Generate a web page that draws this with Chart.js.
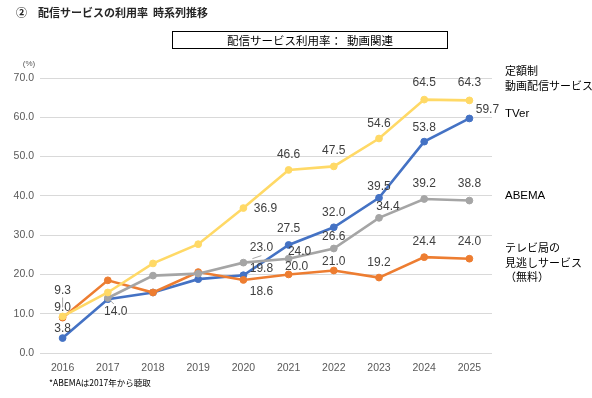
<!DOCTYPE html>
<html>
<head>
<meta charset="utf-8">
<script src="https://cdn.jsdelivr.net/npm/chart.js@4.4.1/dist/chart.umd.min.js"></script>
<style>
  html, body { margin: 0; padding: 0; background: #fff; }
  canvas { display: block; }
</style>
</head>
<body>
<canvas id="usage-chart" width="592" height="398"></canvas>
<script>
// data
const years = ['2016', '2017', '2018', '2019', '2020', '2021', '2022', '2023', '2024', '2025'];
const svodValues    = [9.3, 15.4, 22.8, 27.7, 36.9, 46.6, 47.5, 54.6, 64.5, 64.3];
const tverValues    = [3.8, 13.7, 15.4, 18.8, 19.8, 27.5, 32.0, 39.5, 53.8, 59.7];
const abemaValues   = [null, 14.0, 19.7, 20.2, 23.0, 24.0, 26.6, 34.4, 39.2, 38.8];
const catchupValues = [9.0, 18.5, 15.4, 20.6, 18.6, 20.0, 21.0, 19.2, 24.4, 24.0];
const yMin = 0, yMax = 70, yStep = 10;

const titleText = '②　配信サービスの利用率  時系列推移';
const boxText = '配信サービス利用率：  動画関連';
const unitText = '(%)';
const noteText = '*ABEMAは2017年から聴取';
const svodName = ['定額制', '動画配信サービス'];
const tverName = ['TVer'];
const abemaName = ['ABEMA'];
const catchupName = ['テレビ局の', '見逃しサービス', '（無料）'];

const JP = '"Noto Sans CJK JP", sans-serif';
const NUM = '"Liberation Sans", Arial, sans-serif';

// which values get a label and where it sits relative to its point [dx, dy]
const labelSpots = [
    { 0: [0, -26], 4: [22, 1], 5: [0, -15], 6: [0, -16], 7: [0, -15], 8: [0, -17], 9: [0, -18] },
    { 1: [8, 14], 4: [18, -15], 5: [11, -7], 6: [0, -12], 7: [9, -11], 8: [0, -15], 9: [0, -17] },
    { 0: [0, -10], 4: [18, 12], 5: [8, -8], 6: [0, -9], 7: [0, -15], 8: [0, -15], 9: [0, -17] },
    { 0: [0, -9], 4: [18, -7], 5: [0, -16], 6: [0, -15], 7: [0, -11], 8: [0, -14], 9: [18, -9] }
];
// little leader lines [dataset, index, x1, y1, x2, y2] relative to the point
const leaders = [
    [0, 0, 0, -19, 0, -9],
    [1, 1, 2, 2, 6, 6],
    [1, 4, 9, -4, 18, -7]
];

const dataLabels = {
    id: 'dataLabels',
    afterDatasetsDraw(chart) {
        const ctx = chart.ctx;
        ctx.save();
        ctx.strokeStyle = '#a6a6a6';
        ctx.lineWidth = 1;
        leaders.forEach(([d, i, x1, y1, x2, y2]) => {
            const pt = chart.getDatasetMeta(d).data[i];
            ctx.beginPath();
            ctx.moveTo(pt.x + x1, pt.y + y1);
            ctx.lineTo(pt.x + x2, pt.y + y2);
            ctx.stroke();
        });
        ctx.font = '12px ' + NUM;
        ctx.fillStyle = '#404040';
        ctx.textAlign = 'center';
        ctx.textBaseline = 'middle';
        chart.data.datasets.forEach((ds, d) => {
            const meta = chart.getDatasetMeta(d);
            Object.entries(labelSpots[d]).forEach(([i, off]) => {
                const v = ds.data[i];
                if (v == null) return;
                const pt = meta.data[i];
                ctx.fillText(v.toFixed(1), pt.x + off[0], pt.y + off[1]);
            });
        });
        ctx.restore();
    }
};

const decorations = {
    id: 'decorations',
    afterDraw(chart) {
        const ctx = chart.ctx;
        const area = chart.chartArea;
        ctx.save();
        ctx.textBaseline = 'middle';

        ctx.fillStyle = '#262626';
        ctx.font = 'bold 11px ' + JP;
        ctx.textAlign = 'left';
        ctx.fillText(titleText, 16, 13);

        ctx.strokeStyle = '#000';
        ctx.lineWidth = 1;
        ctx.strokeRect(172.5, 31.5, 275, 17);
        ctx.fillStyle = '#000';
        ctx.font = '11.5px ' + JP;
        ctx.textAlign = 'center';
        ctx.fillText(boxText, 310, 40.5);

        ctx.fillStyle = '#595959';
        ctx.font = '8px ' + NUM;
        ctx.fillText(unitText, 29, 64);

        ctx.fillStyle = '#000';
        ctx.font = '8.5px ' + JP;
        ctx.textAlign = 'left';
        ctx.fillText(noteText, 49, 383);

        const x = area.right + 13;
        ctx.font = '11px ' + JP;
        ctx.fillStyle = '#000';
        const put = (lines, y0) => lines.forEach((t, k) => ctx.fillText(t, x, y0 + k * 14.5));
        put(svodName, 71);
        ctx.font = '11.5px ' + NUM;
        put(tverName, 114);
        put(abemaName, 196);
        ctx.font = '11px ' + JP;
        put(catchupName, 248);
        ctx.restore();
    }
};

function series(data, color) {
    return {
        data: data,
        borderColor: color,
        backgroundColor: color,
        pointBackgroundColor: color,
        pointBorderColor: color,
        borderWidth: 2.6,
        pointRadius: 3.4,
        pointBorderWidth: 1,
        tension: 0
    };
}

new Chart(document.getElementById('usage-chart'), {
    type: 'line',
    data: {
        labels: years,
        datasets: [
            series(svodValues, '#FFD966'),
            series(abemaValues, '#A5A5A5'),
            series(catchupValues, '#ED7D31'),
            series(tverValues, '#4472C4')
        ]
    },
    options: {
        responsive: false,
        animation: false,
        devicePixelRatio: 1,
        layout: { padding: { top: 78, right: 100, left: 0, bottom: 0 } },
        plugins: { legend: { display: false }, tooltip: { enabled: false } },
        scales: {
            x: {
                offset: true,
                grid: { display: false },
                border: { display: false },
                ticks: { color: '#595959', font: { family: NUM, size: 10.5 }, padding: 1, maxRotation: 0 },
                afterFit: s => { s.height = 45; }
            },
            y: {
                min: yMin,
                max: yMax,
                ticks: {
                    stepSize: yStep,
                    color: '#595959',
                    font: { family: NUM, size: 10.5 },
                    padding: 6,
                    callback: v => v.toFixed(1)
                },
                grid: { color: '#d9d9d9', drawTicks: false },
                border: { display: false },
                afterFit: s => { s.width = 40; }
            }
        }
    },
    plugins: [dataLabels, decorations]
});
</script>
</body>
</html>
